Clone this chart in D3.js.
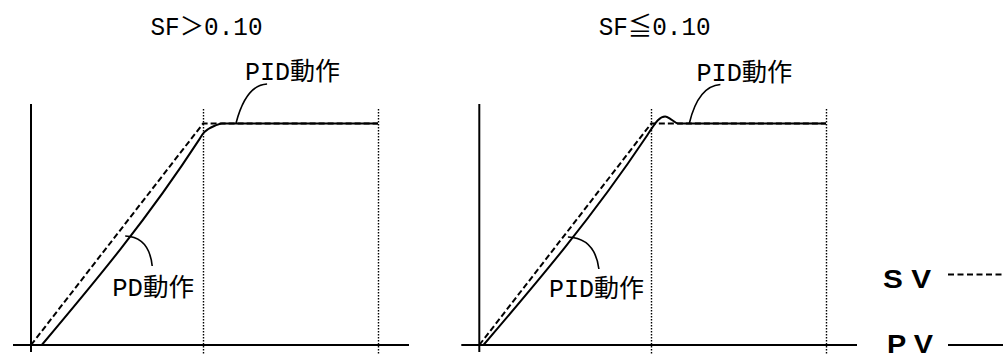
<!DOCTYPE html>
<html>
<head>
<meta charset="utf-8">
<script src="https://cdn.jsdelivr.net/npm/d3@7"></script>
<style>
  html, body { margin: 0; padding: 0; background: #fff; }
  svg { display: block; }
</style>
</head>
<body>
<svg id="chart" width="1003" height="354"></svg>
<script>
// ---------------- data ----------------
const panelTitles = ["SF＞0.10", "SF≦0.10"];
const timeDomain = [0, 100];          // schematic time axis (ramp end, soak end)
const rampEnd = 49.6;
// SV (set value) – identical in both panels
const svTime  = [0, rampEnd, 100];
const svValue = [0, 1, 1];
// PV left panel (PD control during ramp, PID afterwards)
const pvLeftTime  = [3.1, 48.7, 49.65, 51.1, 53.0, 55.0, 100];
const pvLeftValue = [0, 0.933, 0.956, 0.975, 0.990, 1.0, 1.0];
// PV right panel (PID control throughout, small overshoot)
const pvRightTime  = [1.2, 48.1, 49.8, 51.5, 53.6, 55.4, 57.3, 100];
const pvRightValue = [0, 0.939, 0.979, 1.015, 1.032, 1.018, 1.0, 1.0];
// annotation labels
const topLabels    = ["PID動作", "PID動作"];
const bottomLabels = ["PD動作", "PID動作"];
const legendLabels = ["S V", "P V"];

// ---------------- layout ----------------
const svg = d3.select("#chart");
const jpFont = "'Liberation Mono', 'Noto Sans CJK JP', monospace";
const jpSize = 25;
const panels = [
  { x0: 31,    x1: 378, title: panelTitles[0], pvT: pvLeftTime,  pvV: pvLeftValue,
    topLab: topLabels[0], botLab: bottomLabels[0], botV: 0.492,
    topT: 59.1, topLabW: 95, botLabW: 82,
    botCtl: [24, 1], botEnd: [27, 30], botLabOff: [-40, 30],
    topCtl: [10, -38], topEnd: [31, -39], topLabOff: [-22, -4] },
  { x0: 479.3, x1: 826, title: panelTitles[1], pvT: pvRightTime, pvV: pvRightValue,
    topLab: topLabels[1], botLab: bottomLabels[1], botV: 0.4876,
    topT: 60.6, topLabW: 96, botLabW: 95,
    botCtl: [27, 1], botEnd: [31, 32], botLabOff: [-50, 28],
    topCtl: [9, -37], topEnd: [31, -38.5], topLabOff: [-24, -4] }
];

const y = d3.scaleLinear().domain([0, 1]).range([345, 123.5]);

panels.forEach(p => {
  const x = d3.scaleLinear().domain(timeDomain).range([p.x0, p.x1]);
  const g = svg.append("g");

  // axes (plain lines, no ticks)
  g.append("line").attr("x1", x(0)).attr("x2", x(0))
    .attr("y1", y(0) - 241).attr("y2", y(0) + 7)
    .attr("stroke", "#000").attr("stroke-width", 2);
  g.append("line").attr("x1", x(0) - 18).attr("x2", x(100) + 31)
    .attr("y1", y(0)).attr("y2", y(0))
    .attr("stroke", "#000").attr("stroke-width", 2);

  // dotted verticals at ramp end and soak end
  [rampEnd, 100].forEach(t => {
    g.append("line").attr("x1", Math.round(x(t)) + 0.5).attr("x2", Math.round(x(t)) + 0.5)
      .attr("y1", 109).attr("y2", 354)
      .attr("stroke", "#000").attr("stroke-width", 1.4)
      .attr("stroke-dasharray", "1.5,1.5");
  });

  // SV dashed
  const svLine = d3.line().x((d, i) => x(svTime[i])).y((d, i) => y(svValue[i]));
  g.append("path").attr("d", svLine(svTime))
    .attr("fill", "none").attr("stroke", "#000").attr("stroke-width", 2)
    .attr("stroke-dasharray", "6,3");

  // PV solid
  const pvLine = d3.line().curve(d3.curveMonotoneX)
    .x((d, i) => x(p.pvT[i])).y((d, i) => y(p.pvV[i]));
  g.append("path").attr("d", pvLine(p.pvT))
    .attr("fill", "none").attr("stroke", "#000").attr("stroke-width", 2);

  // title
  g.append("text").text(p.title)
    .attr("x", x(50) + 2).attr("y", 35)
    .attr("text-anchor", "middle")
    .attr("font-family", jpFont).attr("font-size", jpSize)
    .attr("textLength", 112).attr("lengthAdjust", "spacingAndGlyphs");

  // top leader + label (anchored on flat part of PV)
  const ta = [x(p.topT), y(1) - 0.5];
  g.append("path")
    .attr("d", `M${ta[0]},${ta[1]} Q${ta[0] + p.topCtl[0]},${ta[1] + p.topCtl[1]} ${ta[0] + p.topEnd[0]},${ta[1] + p.topEnd[1]}`)
    .attr("fill", "none").attr("stroke", "#000").attr("stroke-width", 1.6);
  g.append("text").text(p.topLab)
    .attr("x", ta[0] + p.topEnd[0] + p.topLabOff[0])
    .attr("y", ta[1] + p.topEnd[1] + p.topLabOff[1])
    .attr("font-family", jpFont).attr("font-size", jpSize)
    .attr("textLength", p.topLabW).attr("lengthAdjust", "spacingAndGlyphs");

  // bottom leader + label (anchored on PV ramp)
  const i1 = 1;
  const tb = p.pvT[0] + (p.botV - p.pvV[0]) / (p.pvV[i1] - p.pvV[0]) * (p.pvT[i1] - p.pvT[0]);
  const ba = [x(tb), y(p.botV)];
  g.append("path")
    .attr("d", `M${ba[0]},${ba[1]} Q${ba[0] + p.botCtl[0]},${ba[1] + p.botCtl[1]} ${ba[0] + p.botEnd[0]},${ba[1] + p.botEnd[1]}`)
    .attr("fill", "none").attr("stroke", "#000").attr("stroke-width", 1.6);
  g.append("text").text(p.botLab)
    .attr("x", ba[0] + p.botEnd[0] + p.botLabOff[0])
    .attr("y", ba[1] + p.botEnd[1] + p.botLabOff[1])
    .attr("font-family", jpFont).attr("font-size", jpSize)
    .attr("textLength", p.botLabW).attr("lengthAdjust", "spacingAndGlyphs");
});

// ---------------- legend ----------------
const lg = svg.append("g");
const legendRows = [
  { label: legendLabels[0], tx: 883, ty: 288, lw: 48, ly: 274.5, dash: "6,3.5" },
  { label: legendLabels[1], tx: 887, ty: 353, lw: 46, ly: 345, dash: null }
];
legendRows.forEach(r => {
  lg.append("text").text(r.label)
    .attr("x", r.tx).attr("y", r.ty)
    .attr("font-family", "'Liberation Sans', Arial, sans-serif")
    .attr("font-weight", "bold").attr("font-size", 26)
    .attr("textLength", r.lw).attr("lengthAdjust", "spacingAndGlyphs");
  const ln = lg.append("line").attr("x1", 948).attr("x2", 1003)
    .attr("y1", r.ly).attr("y2", r.ly)
    .attr("stroke", "#000").attr("stroke-width", 1.8);
  if (r.dash) ln.attr("stroke-dasharray", r.dash);
});
</script>
</body>
</html>
